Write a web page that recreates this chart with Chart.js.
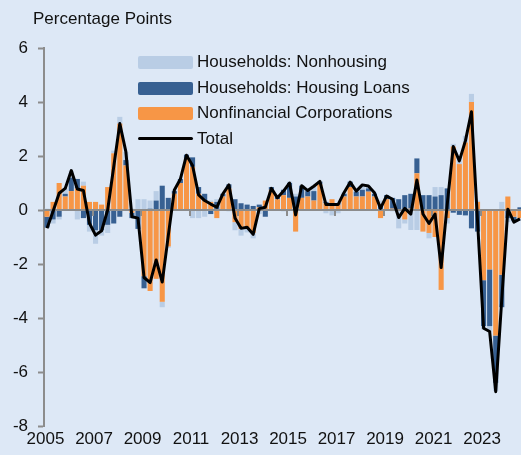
<!DOCTYPE html>
<html>
<head>
<meta charset="utf-8">
<script src="https://cdn.jsdelivr.net/npm/chart.js@4.4.1/dist/chart.umd.min.js"></script>
<style>
  html, body { margin: 0; padding: 0; background: #dde8f6; overflow: hidden; }
  #wrap { position: relative; width: 523px; height: 455px; font-family: "Liberation Sans", Arial, sans-serif; color: #111; }
  #titulo { position: absolute; left: 33px; top: 9px; font-size: 17px; }
  .leg { position: absolute; left: 138px; height: 20px; font-size: 17px; line-height: 20px; }
  .leg .cx { position: absolute; left: 0; top: 4px; width: 55px; height: 13px; border-radius: 2px; }
  .leg .tx { position: absolute; left: 59px; top: 0; white-space: nowrap; }
</style>
</head>
<body>
<div id="wrap">
  <canvas id="canvas_grafico" width="523" height="455"></canvas>
  <div id="titulo">Percentage Points</div>
  <div class="leg" style="top:52px"><span class="cx" style="background:#b9cde5"></span><span class="tx">Households: Nonhousing</span></div>
  <div class="leg" style="top:78px"><span class="cx" style="background:#376092"></span><span class="tx">Households: Housing Loans</span></div>
  <div class="leg" style="top:103px"><span class="cx" style="background:#f79646"></span><span class="tx">Nonfinancial Corporations</span></div>
  <div class="leg" style="top:129px"><span class="cx" style="background:#000;top:8px;height:3px"></span><span class="tx">Total</span></div>
</div>
<script>
// trimestres de 2005T1 a 2024T3
const trimestres = [];
for (let ano = 2005; ano <= 2024; ano++) {
    for (let q = 1; q <= 4; q++) trimestres.push(ano + 'Q' + q);
}
trimestres.length = 79;

const naoHabitacional = [
    0.05, -0.15, -0.1, 0.2, 0.25, -0.35, 0.15, -0.25, -0.5, -0.2,
    -0.3, 0.1, 0.25, 0.3, 0.05, 0.4, 0.4, 0.3, 0.35, -0.2,
    -0.05, 0.05, 0.0, 0.0, -0.3, -0.3, -0.25, 0.05, 0.1, 0.0,
    -0.05, -0.3, -0.25, -0.15, -0.2, -0.15, 0.0, 0.0, 0.0, -0.05,
    0.05, 0.1, 0.0, 0.0, 0.2, 0.0, -0.12, -0.2, -0.12, 0.05,
    0.0, 0.0, 0.18, 0.1, 0.05, 0.15, 0.0, -0.05, -0.68, -0.15,
    -0.74, -0.74, 0.0, -0.2, 0.35, 0.3, -0.2, 0.1, 0.3, 0.25,
    0.3, 0.05, -0.12, -0.2, -0.3, 0.3, -0.15, -0.05, -0.1
];
const habitacional = [
    -0.4, -0.35, -0.25, 0.1, 0.5, 0.35, -0.3, -0.55, -0.75, -0.75,
    -0.55, -0.5, -0.25, 0.2, -0.2, -0.7, -0.45, 0.05, 0.35, 0.9,
    0.45, 0.1, 0.15, 0.15, 0.35, 0.25, 0.25, -0.15, 0.3, 0.1,
    0.15, 0.4, 0.25, 0.2, 0.15, 0.1, -0.25, 0.1, 0.1, 0.2,
    0.55, 0.5, 0.45, 0.2, 0.35, 0.1, 0.05, 0.0, 0.05, 0.1,
    0.2, 0.18, 0.25, 0.12, 0.1, 0.2, 0.15, 0.4, 0.4, 0.55,
    0.55, 0.55, 0.55, 0.55, 0.5, 0.55, 0.8, -0.1, -0.18, -0.2,
    -0.68, -0.8, -1.7, -2.1, -1.75, -1.2, -0.3, -0.15, 0.1
];
const empresas = [
    -0.25, 0.3, 1.0, 0.5, 0.7, 0.8, 0.9, 0.3, 0.3, 0.2,
    0.85, 2.1, 3.2, 1.65, -0.1, 0.0, -2.45, -3.0, -2.55, -3.4,
    -1.35, 0.6, 1.0, 1.9, 1.6, 0.6, 0.35, 0.3, -0.3, 0.5,
    0.8, -0.45, -0.7, -0.68, -0.85, 0.1, 0.35, 0.75, 0.4, 0.55,
    0.45, -0.8, 0.45, 0.5, 0.35, 0.95, 0.25, 0.4, 0.2, 0.5,
    0.85, 0.5, 0.5, 0.68, 0.5, -0.3, 0.4, 0.05, 0.0, -0.35,
    0.05, 1.36, -0.8, -0.85, -1.0, -2.96, -0.3, 2.35, 1.7, 2.5,
    4.0, 0.3, -2.6, -2.2, -4.65, -2.4, 0.5, -0.25, -0.3
];
const total = [
    -0.68, -0.05, 0.62, 0.8, 1.46, 0.78, 0.72, -0.49, -0.93, -0.77,
    0.0, 1.6, 3.2, 2.16, -0.25, -0.3, -2.5, -2.69, -1.85, -2.67,
    -0.95, 0.74, 1.15, 2.03, 1.65, 0.56, 0.35, 0.22, 0.1, 0.6,
    0.93, -0.3, -0.68, -0.64, -0.9, 0.05, 0.1, 0.8, 0.45, 0.7,
    1.0, -0.18, 0.9, 0.72, 0.88, 1.06, 0.2, 0.2, 0.2, 0.65,
    1.03, 0.7, 0.93, 0.89, 0.64, 0.06, 0.52, 0.4, -0.28, 0.06,
    -0.15, 1.11, -0.15, -0.5, -0.15, -2.13, 0.2, 2.35, 1.82, 2.56,
    3.64, -0.4, -4.38, -4.5, -6.73, -3.3, 0.03, -0.45, -0.33
];

const fonte = '"Liberation Sans", Arial, sans-serif';
Chart.defaults.font.family = fonte;

// linha do zero com marcas a cada dois anos, desenhada antes da linha do total
const linhaZero = {
    id: 'linhaZero',
    beforeDatasetDraw(chart, args) {
        if (args.index !== 0) return;
        const ctx = chart.ctx;
        const area = chart.chartArea;
        const x = chart.scales.x;
        const y0 = chart.scales.y.getPixelForValue(0);
        const larg = x.getPixelForValue(1) - x.getPixelForValue(0);
        ctx.save();
        ctx.strokeStyle = '#8c8c8c';
        ctx.lineWidth = 2;
        ctx.beginPath();
        ctx.moveTo(area.left, y0);
        ctx.lineTo(area.right, y0);
        for (let i = 8; i < trimestres.length; i += 8) {
            const px = Math.round(x.getPixelForValue(i) - larg / 2);
            ctx.moveTo(px, y0);
            ctx.lineTo(px, y0 + 6);
        }
        ctx.stroke();
        ctx.restore();
    }
};

const ctx = document.getElementById('canvas_grafico').getContext('2d');
new Chart(ctx, {
    type: 'bar',
    data: {
        labels: trimestres,
        datasets: [
            {
                type: 'line',
                label: 'Total',
                data: total,
                stack: 'total',
                borderColor: '#000000',
                borderWidth: 3,
                borderJoinStyle: 'round',
                pointRadius: 0,
                tension: 0,
                order: 0
            },
            {
                label: 'Nonfinancial Corporations',
                data: empresas,
                backgroundColor: '#f79646',
                barPercentage: 0.84,
                categoryPercentage: 1.0,
                order: 1
            },
            {
                label: 'Households: Housing Loans',
                data: habitacional,
                backgroundColor: '#376092',
                barPercentage: 0.84,
                categoryPercentage: 1.0,
                order: 1
            },
            {
                label: 'Households: Nonhousing',
                data: naoHabitacional,
                backgroundColor: '#b9cde5',
                barPercentage: 0.84,
                categoryPercentage: 1.0,
                order: 1
            }
        ]
    },
    options: {
        responsive: false,
        animation: false,
        devicePixelRatio: 1,
        layout: { padding: { top: 48, right: 0, bottom: 0, left: 0 } },
        scales: {
            x: {
                stacked: true,
                grid: { display: false, drawTicks: false },
                border: { display: false },
                ticks: {
                    autoSkip: false,
                    maxRotation: 0,
                    minRotation: 0,
                    labelOffset: -1.5,
                    padding: 3,
                    color: '#111',
                    font: { size: 17 },
                    callback: function(value, index) {
                        return index % 8 === 0 ? trimestres[index].slice(0, 4) : '';
                    }
                },
                afterFit: function(s) { s.height = 29; }
            },
            y: {
                stacked: true,
                min: -8,
                max: 6,
                ticks: {
                    stepSize: 2,
                    padding: 10,
                    color: '#111',
                    font: { size: 17 }
                },
                grid: { drawOnChartArea: false, tickLength: 6, tickColor: '#8c8c8c', tickWidth: 2 },
                border: { color: '#8c8c8c', width: 2 },
                afterFit: function(s) { s.width = 44; }
            }
        },
        plugins: {
            legend: { display: false },
            tooltip: { enabled: false }
        }
    },
    plugins: [linhaZero]
});
</script>
</body>
</html>
